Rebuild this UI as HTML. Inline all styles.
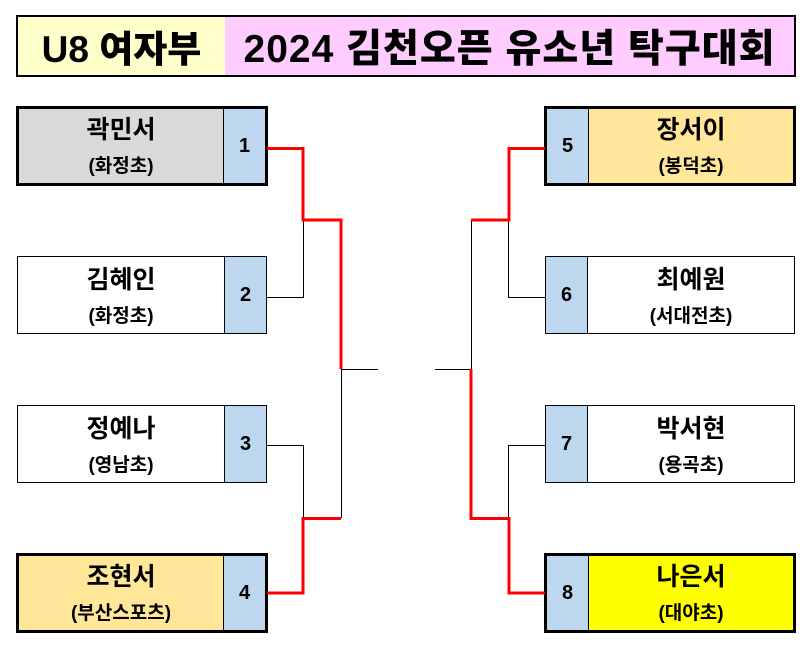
<!DOCTYPE html>
<html><head><meta charset="utf-8"><style>
body{margin:0;width:812px;height:648px;background:#fff;position:relative;overflow:hidden;font-family:"Liberation Sans","Noto Sans CJK KR",sans-serif;font-weight:bold;color:#000}
.a{position:absolute;box-sizing:border-box}
.hd{display:flex;align-items:center;justify-content:center;font-size:37px;font-weight:900}
.nm{font-size:25px;text-align:center;position:absolute;left:0;right:0;top:3px;line-height:36px}
.sc{font-size:19px;text-align:center;position:absolute;left:0;right:0;top:45px;line-height:26px}
.num{display:flex;align-items:center;justify-content:center;font-size:20px;background:#bdd7ee}
</style></head><body>
<div class="a hd" style="left:16px;top:15px;width:210px;height:62px;background:#ffffcc;border:2px solid #000;border-right:1px solid #000">U8 여자부</div>
<div class="a hd" style="left:225px;top:15px;width:571px;height:62px;background:#ffccff;border:2px solid #000;border-left:none;font-size:39px;letter-spacing:1px">2024 김천오픈 유소년 탁구대회</div>

<div class="a" style="left:16px;top:106px;width:252px;height:80px;border:3px solid #000;background:#d9d9d9">
 <div class="nm" style="right:42px">곽민서</div><div class="sc" style="right:42px">(화정초)</div>
 <div class="a num" style="right:0;top:0;width:42px;height:74px;border-left:1px solid #000">1</div></div>
<div class="a" style="left:17px;top:256px;width:250px;height:78px;border:1px solid #000;background:#fff">
 <div class="nm" style="right:42px;top:5px">김혜인</div><div class="sc" style="right:42px;top:47px">(화정초)</div>
 <div class="a num" style="right:0;top:0;width:42px;height:76px;border-left:1px solid #000">2</div></div>
<div class="a" style="left:17px;top:405px;width:250px;height:78px;border:1px solid #000;background:#fff">
 <div class="nm" style="right:42px;top:5px">정예나</div><div class="sc" style="right:42px;top:47px">(영남초)</div>
 <div class="a num" style="right:0;top:0;width:42px;height:76px;border-left:1px solid #000">3</div></div>
<div class="a" style="left:16px;top:553px;width:252px;height:80px;border:3px solid #000;background:#ffe699">
 <div class="nm" style="right:42px">조현서</div><div class="sc" style="right:42px">(부산스포츠)</div>
 <div class="a num" style="right:0;top:0;width:42px;height:74px;border-left:1px solid #000">4</div></div>

<div class="a" style="left:544px;top:106px;width:252px;height:80px;border:3px solid #000;background:#ffe699">
 <div class="nm" style="left:42px">장서이</div><div class="sc" style="left:42px">(봉덕초)</div>
 <div class="a num" style="left:0;top:0;width:42px;height:74px;border-right:1px solid #000">5</div></div>
<div class="a" style="left:545px;top:256px;width:250px;height:78px;border:1px solid #000;background:#fff">
 <div class="nm" style="left:42px;top:5px">최예원</div><div class="sc" style="left:42px;top:47px">(서대전초)</div>
 <div class="a num" style="left:0;top:0;width:42px;height:76px;border-right:1px solid #000">6</div></div>
<div class="a" style="left:545px;top:405px;width:250px;height:78px;border:1px solid #000;background:#fff">
 <div class="nm" style="left:42px;top:5px">박서현</div><div class="sc" style="left:42px;top:47px">(용곡초)</div>
 <div class="a num" style="left:0;top:0;width:42px;height:76px;border-right:1px solid #000">7</div></div>
<div class="a" style="left:544px;top:553px;width:252px;height:80px;border:3px solid #000;background:#ffff00">
 <div class="nm" style="left:42px">나은서</div><div class="sc" style="left:42px">(대야초)</div>
 <div class="a num" style="left:0;top:0;width:42px;height:74px;border-right:1px solid #000">8</div></div>

<svg class="a" style="left:0;top:0" width="812" height="648" fill="none">
 <g stroke="#000" stroke-width="1">
  <polyline points="267,297.5 303.5,297.5 303.5,220"/>
  <polyline points="267,445.5 303.5,445.5 303.5,518"/>
  <polyline points="341.5,369 341.5,518"/>
  <line x1="341" y1="369.5" x2="378" y2="369.5"/>
  <polyline points="545,297.5 508.5,297.5 508.5,220"/>
  <polyline points="545,445.5 508.5,445.5 508.5,518"/>
  <polyline points="471.5,220 471.5,369"/>
  <line x1="435" y1="369.5" x2="471" y2="369.5"/>
 </g>
 <g stroke="#ff0000" stroke-width="3">
  <polyline points="267,148.5 303,148.5 303,220 341,220 341,369"/>
  <polyline points="267,593 303,593 303,518.5 341,518.5"/>
  <polyline points="545,148.5 509,148.5 509,220 471,220"/>
  <polyline points="471,369 471,518.5 509,518.5 509,593 545,593"/>
 </g>
</svg>
</body></html>
